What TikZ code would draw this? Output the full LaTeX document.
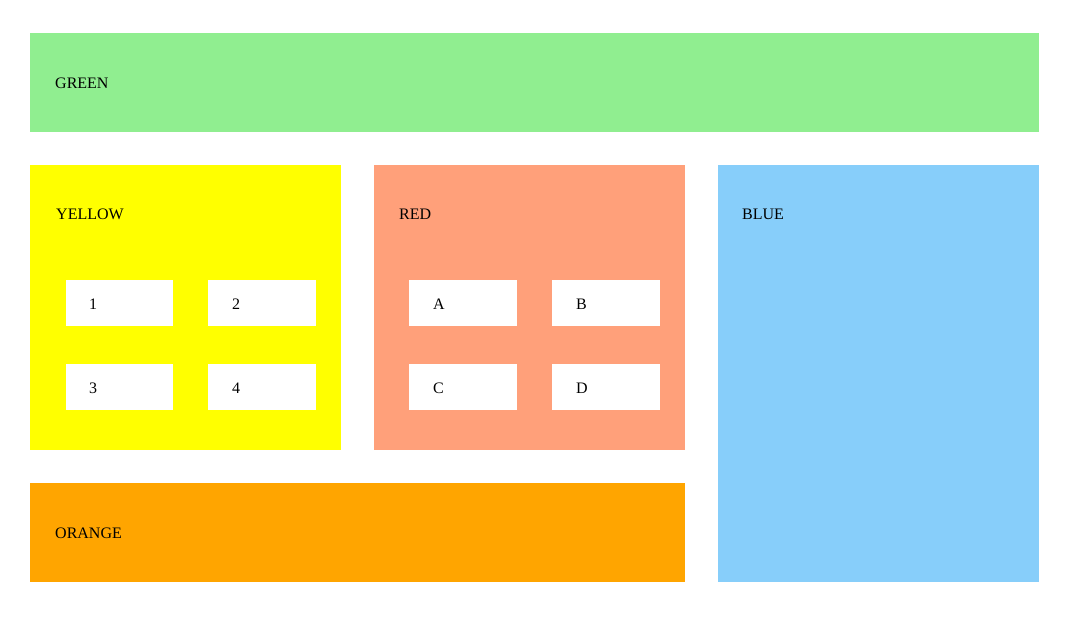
\documentclass[tikz,border=0pt]{standalone}
\usepackage{fontspec}
\setmainfont{Liberation Serif}
\definecolor{cgreen}{HTML}{90EE90}
\definecolor{cyellow}{HTML}{FFFF00}
\definecolor{cred}{HTML}{FFA07A}
\definecolor{cblue}{HTML}{87CEFA}
\definecolor{corange}{HTML}{FFA500}
\tikzset{
  panel/.style={fill=#1, draw=none},
  cell/.style={fill=white, draw=none},
  lbl/.style={anchor=base west, inner sep=0pt, font=\fontsize{16}{19}\selectfont}
}
\begin{document}
\begin{tikzpicture}[x=1pt,y=-1pt]
\useasboundingbox[fill=white] (0,0) rectangle (1069,621);
% panels
\path[panel=cgreen] (30,33) rectangle (1039,132);
\path[panel=cyellow] (30,165) rectangle (341,450);
\path[panel=cred] (374,165) rectangle (685,450);
\path[panel=cblue] (718,165) rectangle (1039,582);
\path[panel=corange] (30,483) rectangle (685,582);
% cells
\path[cell] (66,280) rectangle (173,326);
\path[cell] (208,280) rectangle (316,326);
\path[cell] (66,364) rectangle (173,410);
\path[cell] (208,364) rectangle (316,410);
\path[cell] (409,280) rectangle (517,326);
\path[cell] (552,280) rectangle (660,326);
\path[cell] (409,364) rectangle (517,410);
\path[cell] (552,364) rectangle (660,410);
% labels
\node[lbl] (tgreen) at (55,88) {GREEN};
\node[lbl] (tyellow) at (56,219) {YELLOW};
\node[lbl] (tred) at (399,219) {RED};
\node[lbl] (tblue) at (742,219) {BLUE};
\node[lbl] (torange) at (55,538) {ORANGE};
\node[lbl] (t1) at (89,309) {1};
\node[lbl] (t2) at (232,309) {2};
\node[lbl] (t3) at (89,393) {3};
\node[lbl] (t4) at (232,393) {4};
\node[lbl] (tA) at (433,309) {A};
\node[lbl] (tB) at (576,309) {B};
\node[lbl] (tC) at (433,393) {C};
\node[lbl] (tD) at (576,393) {D};
\end{tikzpicture}
\end{document}
